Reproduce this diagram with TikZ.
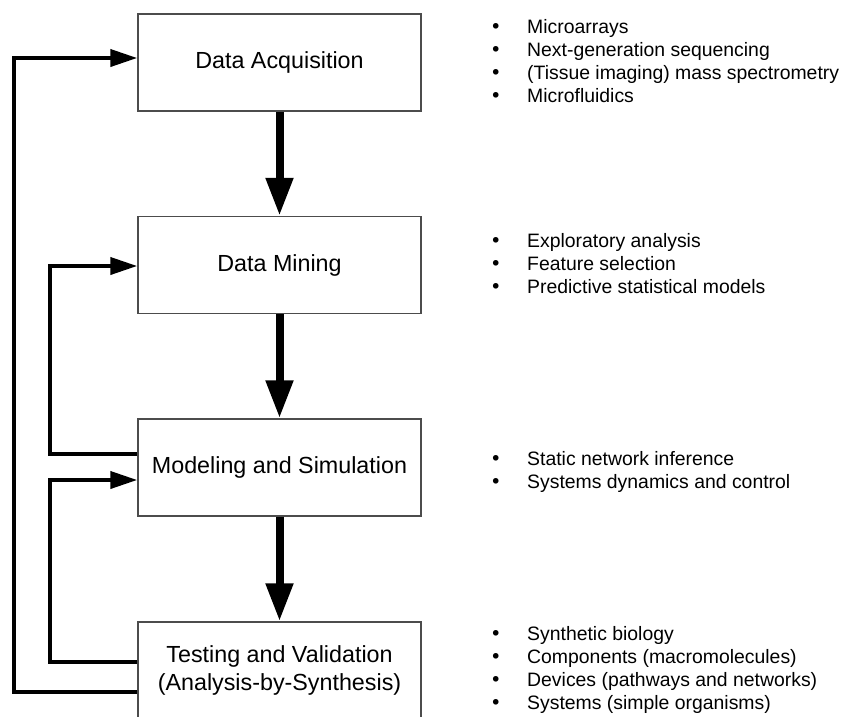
\documentclass[tikz,border=0pt]{standalone}
\usepackage{fontspec}
\setmainfont{Liberation Sans}
\newfontfamily\dotfont{DejaVu Sans}
\usetikzlibrary{arrows.meta,calc}

\newcommand{\listentry}[1]{\makebox[36.4pt][l]{\hspace{-0.8pt}{\dotfont •}}#1}

\begin{document}
\begin{tikzpicture}[x=1pt,y=-1pt,
  stage/.style={draw=black!70,line width=1.5pt,minimum width=283pt,minimum height=97pt,
    inner sep=0pt,align=center,font=\fontsize{23.3}{28}\selectfont},
  flow/.style={line width=8pt,-{Triangle[length=38pt,width=26pt]}},
  back/.style={line width=4pt,-{Triangle[length=27pt,width=17pt]}},
  tasks/.style={anchor=west,align=left,inner sep=0pt,font=\fontsize{19.4}{23}\selectfont}]
\useasboundingbox (0,0) rectangle (844,716);
% stages
\node[stage] (acq) at (279.5,62.5) {Data Acquisition};
\node[stage] (min) at (279.5,265) {Data Mining};
\node[stage] (mod) at (279.5,467.5) {Modeling and Simulation};
\node[stage] (val) at (279.5,670.5) {Testing and Validation\\(Analysis-by-Synthesis)};
% forward flow
\draw[flow] (acq) -- (min);
\draw[flow] (mod.north |- min.south) -- (mod);
\draw[flow] (mod) -- (val);
% feedback loops
\coordinate (outer) at (14,0);
\coordinate (inner) at (50,0);
\coordinate (in1) at ([yshift=4.5pt]acq.west);
\coordinate (in2) at ([yshift=-1pt]min.west);
\coordinate (in3) at ([yshift=-12.5pt]mod.west);
\draw[back] ([yshift=-21.5pt]val.west) -| (outer |- in1) -- (in1);
\draw[back] ([yshift=13.5pt]mod.west) -| (inner |- in2) -- (in2);
\draw[back] ([yshift=8.5pt]val.west) -| (inner |- in3) -- (in3);
% methods
\node[tasks] (acqlist) at (490.6,61) {\listentry{Microarrays}\\\listentry{Next-generation sequencing}\\
  \listentry{(Tissue imaging) mass spectrometry}\\\listentry{Microfluidics}};
\node[tasks] (minlist) at (490.6,263.5) {\listentry{Exploratory analysis}\\\listentry{Feature selection}\\
  \listentry{Predictive statistical models}};
\node[tasks] (modlist) at (490.6,471.5) {\listentry{Static network inference}\\\listentry{Systems dynamics and control}};
\node[tasks] (vallist) at (490.6,669.5) {\listentry{Synthetic biology}\\\listentry{Components (macromolecules)}\\
  \listentry{Devices (pathways and networks)}\\\listentry{Systems (simple organisms)}};
\end{tikzpicture}
\end{document}
